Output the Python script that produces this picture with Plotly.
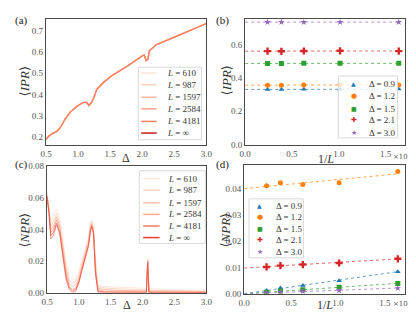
import plotly.graph_objects as go

W, H = 416, 313

# ---------------- data ----------------
L_sizes = [610, 987, 1597, 2584, 4181]
L_labels = ["610", "987", "1597", "2584", "4181", "∞"]
inv_L = [1.0 / n for n in L_sizes]

# (a) <IPR> vs Delta (all L curves coincide)
delta_a = [0.5, 0.55, 0.6, 0.65, 0.7, 0.74, 0.8, 0.88, 1.0, 1.08, 1.13, 1.17, 1.21, 1.24,
           1.29, 1.39, 1.52, 1.77, 2.0, 2.03, 2.06, 2.09, 2.11, 2.22, 2.53, 3.0]
ipr_a = [0.188, 0.205, 0.216, 0.222, 0.235, 0.252, 0.285, 0.318, 0.348, 0.362, 0.363, 0.348,
         0.362, 0.380, 0.423, 0.455, 0.487, 0.534, 0.582, 0.587, 0.560, 0.565, 0.605, 0.635,
         0.674, 0.735]

# (c) <NPR> vs Delta
delta_c = [0.5, 0.53, 0.56, 0.6, 0.65, 0.7, 0.75, 0.8, 0.85, 0.9, 0.95, 1.0, 1.05, 1.1, 1.15,
           1.18, 1.2, 1.23, 1.26, 1.3, 1.4, 1.6, 1.8, 2.0, 2.06, 2.08, 2.1, 2.2, 2.5, 3.0]
npr_610 = [0.063, 0.055, 0.045, 0.048, 0.053, 0.047, 0.033, 0.019, 0.011, 0.008, 0.009, 0.013,
           0.021, 0.028, 0.035, 0.044, 0.046, 0.042, 0.022, 0.005, 0.004, 0.0035, 0.003, 0.0028,
           0.0028, 0.022, 0.0026, 0.0023, 0.0018, 0.0015]
npr_987 = [0.062, 0.054, 0.042, 0.045, 0.050, 0.044, 0.030, 0.016, 0.008, 0.006, 0.007, 0.011,
           0.019, 0.026, 0.033, 0.042, 0.045, 0.041, 0.019, 0.004, 0.003, 0.0025, 0.002, 0.0018,
           0.0018, 0.021, 0.0017, 0.0015, 0.0012, 0.001]
npr_1597 = [0.062, 0.053, 0.040, 0.042, 0.048, 0.042, 0.028, 0.014, 0.006, 0.004, 0.005, 0.009,
            0.017, 0.025, 0.032, 0.041, 0.044, 0.040, 0.017, 0.003, 0.002, 0.0015, 0.0013,
            0.0012, 0.0012, 0.020, 0.0011, 0.001, 0.0008, 0.0007]
npr_2584 = [0.061, 0.052, 0.038, 0.040, 0.046, 0.040, 0.026, 0.012, 0.004, 0.002, 0.003, 0.008,
            0.016, 0.024, 0.031, 0.040, 0.043, 0.039, 0.015, 0.002, 0.001, 0.001, 0.0008,
            0.0007, 0.0007, 0.020, 0.0007, 0.0006, 0.0005, 0.0004]
npr_4181 = [0.061, 0.051, 0.036, 0.038, 0.044, 0.038, 0.024, 0.010, 0.003, 0.001, 0.002, 0.007,
            0.015, 0.023, 0.030, 0.039, 0.042, 0.038, 0.013, 0.001, 0.0005, 0.0004, 0.0004,
            0.0003, 0.0003, 0.019, 0.0003, 0.0003, 0.0002, 0.0002]
npr_inf = [0.060, 0.050, 0.034, 0.036, 0.043, 0.037, 0.022, 0.008, 0.002, 0.000, 0.001, 0.006,
           0.014, 0.022, 0.029, 0.038, 0.042, 0.037, 0.012, 0.000, 0.000, 0.000, 0.000, 0.000,
           0.000, 0.019, 0.000, 0.000, 0.000, 0.000]
npr_c = [npr_610, npr_987, npr_1597, npr_2584, npr_4181, npr_inf]

# (b),(d) finite-size scaling; values ordered like L_sizes
delta_labels = ["0.9", "1.2", "1.5", "2.1", "3.0"]
ipr_b = [
    [0.334, 0.333, 0.332, 0.331, 0.331],
    [0.358, 0.360, 0.358, 0.357, 0.357],
    [0.488, 0.489, 0.488, 0.487, 0.487],
    [0.561, 0.563, 0.562, 0.560, 0.561],
    [0.735, 0.735, 0.735, 0.735, 0.735],
]
ipr_b_fit_start = [0.331, 0.357, 0.487, 0.561, 0.735]
ipr_b_fit_end = [0.333, 0.359, 0.488, 0.562, 0.735]

npr_d = [
    [0.0084, 0.0049, 0.0031, 0.0022, 0.0012],
    [0.0465, 0.0422, 0.0416, 0.0422, 0.0411],
    [0.0039, 0.0025, 0.0015, 0.0010, 0.0006],
    [0.0133, 0.0117, 0.0111, 0.0107, 0.0102],
    [0.0021, 0.0012, 0.0009, 0.0006, 0.0004],
]
npr_d_fit_start = [0.0, 0.0400, 0.0, 0.0098, 0.0]
npr_d_fit_end = [0.0085, 0.0457, 0.0040, 0.0133, 0.0022]
fit_x = [0.0, 1.656e-3]

# ---------------- styles ----------------
reds_a = ["#fee4d9", "#fdd0bd", "#fcbaa0", "#fca386", "#f8805f", "#cb181d"]
reds_c = ["#fee6dc", "#fdd3c1", "#fcbfa6", "#fca88e", "#f7785e", "#ec3c30"]
tab = ["#1f77b4", "#ff7f0e", "#2ca02c", "#d62728", "#9467bd"]
symbols = ["triangle-up", "circle", "square", "cross", "star"]
marker_sizes = [5, 5, 5, 6, 5]
glyphs = ["▲", "●", "■", "✚", "★"]
glyph_sizes = [6, 7, 6, 7, 7]

SERIF = "Liberation Serif, DejaVu Serif, serif"
TICKC = "#555555"
FRAME = "#4a4a4a"


def px(x):
    return x / W


def py(y):
    return 1 - y / H


fig = go.Figure()

# (a)
fig.add_trace(go.Scatter(x=delta_a, y=ipr_a, mode="lines", line=dict(color=reds_a[5], width=1.2),
                         xaxis="x", yaxis="y", showlegend=False))
for i in range(5):
    fig.add_trace(go.Scatter(x=delta_a, y=ipr_a, mode="lines",
                             line=dict(color=reds_a[i], width=1.2),
                             xaxis="x", yaxis="y", showlegend=False))

# (c)
for i in range(6):
    fig.add_trace(go.Scatter(x=delta_c, y=npr_c[i], mode="lines",
                             line=dict(color=reds_c[i], width=1.0),
                             opacity=0.5 if i == 5 else 0.9,
                             xaxis="x3", yaxis="y3", showlegend=False))

# (b) and (d)
for k in range(5):
    fig.add_trace(go.Scatter(x=fit_x, y=[ipr_b_fit_start[k], ipr_b_fit_end[k]], mode="lines",
                             line=dict(color=tab[k], width=1, dash="dot"), opacity=0.7,
                             xaxis="x2", yaxis="y2", showlegend=False))
    fig.add_trace(go.Scatter(x=inv_L, y=ipr_b[k], mode="markers",
                             marker=dict(color=tab[k], symbol=symbols[k], size=marker_sizes[k]),
                             xaxis="x2", yaxis="y2", showlegend=False))
    fig.add_trace(go.Scatter(x=fit_x, y=[npr_d_fit_start[k], npr_d_fit_end[k]], mode="lines",
                             line=dict(color=tab[k], width=1, dash="dot"), opacity=0.7,
                             xaxis="x4", yaxis="y4", showlegend=False))
    fig.add_trace(go.Scatter(x=inv_L, y=npr_d[k], mode="markers",
                             marker=dict(color=tab[k], symbol=symbols[k], size=marker_sizes[k]),
                             xaxis="x4", yaxis="y4", showlegend=False))


def axis(domain, rng, tickvals, ticktext, anchor):
    return dict(domain=domain, range=rng, tickvals=tickvals, ticktext=ticktext, anchor=anchor,
                showline=True, mirror=True, linecolor=FRAME, linewidth=1.3, ticks="",
                showgrid=False, zeroline=False,
                tickfont=dict(family=SERIF, size=9, color=TICKC))


xd_a = [px(33), px(198)]
xd_b = [px(238), px(403)]
xd_c = [px(34), px(198)]
xd_d = [px(237), px(403)]
yd_top = [py(136), py(6)]
yd_bot_c = [py(289), py(158)]
yd_bot_d = [py(290), py(157)]

dtv = [0.5, 1.0, 1.5, 2.0, 2.5, 3.0]
dtt = ["0.5", "1.0", "1.5", "2.0", "2.5", "3.0"]
itv = [0.0, 0.5e-3, 1.0e-3, 1.5e-3]
itt = ["0.0", "0.5", "1.0", "1.5"]

fig.update_layout(
    width=W, height=H, margin=dict(l=0, r=0, t=0, b=0),
    paper_bgcolor="white", plot_bgcolor="white",
    xaxis=axis(xd_a, [0.5, 3.0], dtv, dtt, "y"),
    yaxis=axis(yd_top, [0.163, 0.757], [0.2, 0.3, 0.4, 0.5, 0.6, 0.7],
               ["0.2", "0.3", "0.4", "0.5", "0.6", "0.7"], "x"),
    xaxis2=axis(xd_b, [0.0, 1.71e-3], itv, itt, "y2"),
    yaxis2=axis(yd_top, [0.0, 0.755], [0.0, 0.2, 0.4, 0.6], ["0.0", "0.2", "0.4", "0.6"], "x2"),
    xaxis3=axis(xd_c, [0.5, 3.0], dtv, dtt, "y3"),
    yaxis3=axis(yd_bot_c, [0.0, 0.08], [0.0, 0.02, 0.04, 0.06, 0.08],
                ["0.00", "0.02", "0.04", "0.06", "0.08"], "x3"),
    xaxis4=axis(xd_d, [0.0, 1.72e-3], itv, itt, "y4"),
    yaxis4=axis(yd_bot_d, [0.0, 0.049], [0.0, 0.01, 0.02, 0.03, 0.04],
                ["0.00", "0.01", "0.02", "0.03", "0.04"], "x4"),
)

ann = []
shapes = []


def text(x, y, s, size=9, color="#333333", xanchor="center", angle=0, family=SERIF):
    ann.append(dict(x=px(x), y=py(y), xref="paper", yref="paper", text=s, showarrow=False,
                    xanchor=xanchor, yanchor="middle", textangle=angle,
                    font=dict(family=family, size=size, color=color)))


# panel labels
text(8, 8, "(a)", 11, "#222")
text(215, 8, "(b)", 11, "#222")
text(8, 156, "(c)", 11, "#222")
text(215, 157, "(d)", 11, "#222")

# axis titles
text(11, 71, "⟨<i>IPR</i>⟩", 13, "#333", angle=-90)
text(219, 70, "⟨<i>IPR</i>⟩", 13, "#333", angle=-90)
text(11, 224, "⟨<i>NPR</i>⟩", 13, "#333", angle=-90)
text(218, 224, "⟨<i>NPR</i>⟩", 13, "#333", angle=-90)
text(115, 150, "Δ", 12, "#333")
text(116, 302, "Δ", 12, "#333")
text(321, 151, "1/<i>L</i>", 12, "#333")
text(320, 302, "1/<i>L</i>", 12, "#333")
text(414, 149, "×10⁻³", 7, TICKC, xanchor="right", family="DejaVu Serif, serif")
text(414, 301, "×10⁻³", 7, TICKC, xanchor="right", family="DejaVu Serif, serif")


def legend_box(x0, y0, x1, y1):
    shapes.append(dict(type="rect", xref="paper", yref="paper", x0=px(x0), x1=px(x1),
                       y0=py(y1), y1=py(y0), line=dict(color="#d9d9d9", width=1),
                       fillcolor="rgba(255,255,255,0.8)", layer="above"))


# legend (a)
legend_box(128, 56, 193, 131)
rows_a = [62, 74, 87, 99, 112, 124]
for i in range(6):
    shapes.append(dict(type="line", xref="paper", yref="paper", x0=px(131), x1=px(147),
                       y0=py(rows_a[i]), y1=py(rows_a[i]),
                       line=dict(color=reds_a[i], width=1.5), layer="above"))
    text(155, rows_a[i], "<i>L</i> = " + L_labels[i], 9, "#333", xanchor="left")

# legend (c)
legend_box(129, 163, 197, 238)
rows_c = [171, 183, 196, 208, 220, 232]
for i in range(6):
    shapes.append(dict(type="line", xref="paper", yref="paper", x0=px(133), x1=px(150),
                       y0=py(rows_c[i]), y1=py(rows_c[i]),
                       line=dict(color=reds_c[i], width=1.5), layer="above"))
    text(156, rows_c[i], "<i>L</i> = " + L_labels[i], 9, "#333", xanchor="left")

# legend (b)
legend_box(334, 65, 395, 129)
rows_b = [73, 86, 99, 111, 124]
for k in range(5):
    text(350, rows_b[k], glyphs[k], glyph_sizes[k], tab[k], family="DejaVu Sans")
    text(363, rows_b[k], "Δ = " + delta_labels[k], 9, "#333", xanchor="left")

# legend (d)
legend_box(242, 192, 298, 253)
rows_d = [199, 211, 223, 235, 247]
for k in range(5):
    text(253, rows_d[k], glyphs[k], glyph_sizes[k], tab[k], family="DejaVu Sans")
    text(268, rows_d[k], "Δ = " + delta_labels[k], 9, "#333", xanchor="left")

fig.update_layout(annotations=ann, shapes=shapes)
fig.write_html("out.html")
